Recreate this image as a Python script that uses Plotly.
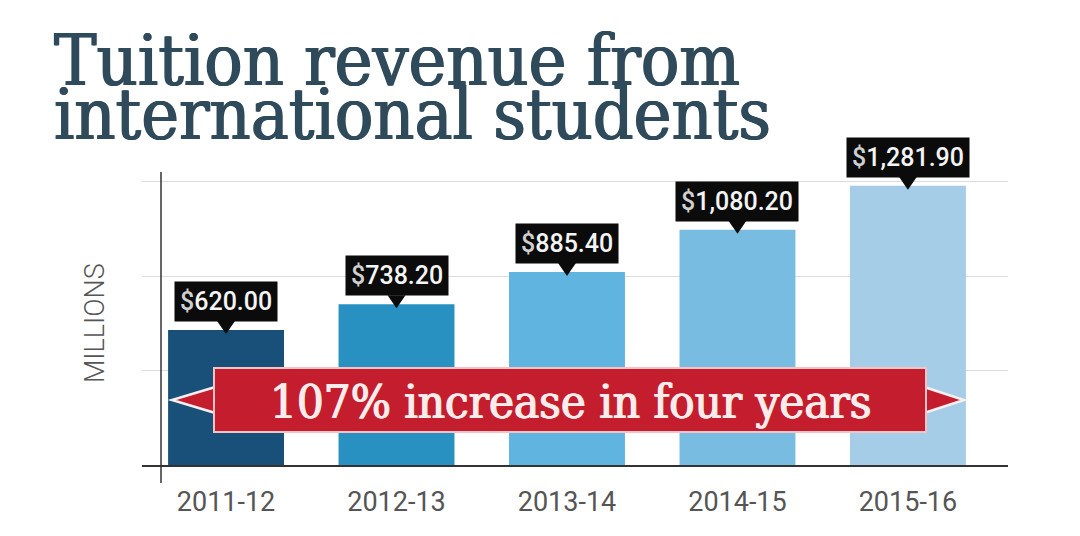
import plotly.graph_objects as go

# ---- data ----
categories = ["2011-12", "2012-13", "2013-14", "2014-15", "2015-16"]
revenue = [620.00, 738.20, 885.40, 1080.20, 1281.90]
bar_colors = ["#18507a", "#2891c2", "#60b4e0", "#78bce2", "#a5cde8"]
gridlines = [1300 / 3, 2600 / 3, 1300]
title_lines = ["Tuition revenue from", "international students"]
banner_text = "107% increase in four years"
y_title = "MILLIONS"

# ---- layout geometry (pixels) ----
W, H = 1080, 536
ML, MR, MT, MB = 142, 72, 160, 71
PW, PH = W - ML - MR, H - MT - MB


def px(x):
    return (x - ML) / PW


def py(y):
    return (H - MB - y) / PH


fig = go.Figure()
fig.add_trace(go.Bar(
    x=list(range(len(categories))), y=revenue,
    marker=dict(color=bar_colors, line=dict(width=0)),
    width=0.68, hoverinfo="skip",
))

# value label boxes + pointers
for i, v in enumerate(revenue):
    fig.add_annotation(
        x=i, y=v, xref="x", yref="y", yanchor="bottom", yshift=8,
        text=f"<span style='color:#cfcfcf'>$</span>{v:,.2f}",
        showarrow=False, bgcolor="#0b0b0b", borderpad=5,
        font=dict(family="Roboto", size=25, color="#f4f4f4", weight=500),
    )
    fig.add_shape(
        type="path", xref="x", yref="y",
        xsizemode="pixel", ysizemode="pixel", xanchor=i, yanchor=v,
        path="M -9 9 L 9 9 L 0 -4 Z",
        fillcolor="#0b0b0b", line=dict(width=0), layer="above",
    )

# banner: arrows then rectangle
red = "#c41e2e"
fig.add_shape(type="path", xref="paper", yref="paper",
              path=f"M {px(222)} {py(385)} L {px(172)} {py(400)} L {px(222)} {py(415)} Z",
              fillcolor=red, line=dict(color="#fbeff0", width=2.5), layer="above")
fig.add_shape(type="path", xref="paper", yref="paper",
              path=f"M {px(918)} {py(385)} L {px(964)} {py(400)} L {px(918)} {py(415)} Z",
              fillcolor=red, line=dict(color="#fbeff0", width=2.5), layer="above")
fig.add_shape(type="rect", xref="paper", yref="paper",
              x0=px(214), x1=px(926), y0=py(432), y1=py(368),
              fillcolor=red, line=dict(color="#f2c4c8", width=2), layer="above")
banner_col = "#fbecec"
fig.add_annotation(x=px(570), y=py(401), xref="paper", yref="paper",
                   xanchor="center", yanchor="middle",
                   text=banner_text, showarrow=False,
                   font=dict(family="DejaVu Serif Condensed, DejaVu Serif", size=47,
                             color=banner_col,
                             shadow=f"0.7px 0 0 {banner_col}, -0.7px 0 0 {banner_col}"))

# y axis vertical line (extends beyond plot)
fig.add_shape(type="line", xref="paper", yref="paper",
              x0=px(161), x1=px(161), y0=py(483), y1=py(172),
              line=dict(color="#333333", width=1.5), layer="above")

# title
tcol = "#2f4a5a"
title_font = dict(family="DejaVu Serif Condensed, DejaVu Serif", size=71, color=tcol,
                  shadow=f"0.8px 0 0 {tcol}, -0.8px 0 0 {tcol}")
fig.add_annotation(x=px(52), y=py(60), xref="paper", yref="paper", xanchor="left", yanchor="middle",
                   text=title_lines[0], showarrow=False, font=title_font)
fig.add_annotation(x=px(52), y=py(114), xref="paper", yref="paper", xanchor="left", yanchor="middle",
                   text=title_lines[1], showarrow=False, font=title_font)

# y title
fig.add_annotation(x=px(95), y=py(323), xref="paper", yref="paper", textangle=-90,
                   xanchor="center", yanchor="middle",
                   text=y_title, showarrow=False,
                   font=dict(family="Roboto", size=27, color="#555555", weight=300))

fig.update_layout(
    width=W, height=H, margin=dict(l=ML, r=MR, t=MT, b=MB),
    paper_bgcolor="white", plot_bgcolor="white", showlegend=False,
    xaxis=dict(range=[-0.493, 4.587], tickmode="array",
               tickvals=list(range(len(categories))), ticktext=categories,
               showgrid=False, zeroline=False, showline=True, linecolor="#333333", linewidth=1.5,
               ticks="", ticklabelstandoff=12,
               tickfont=dict(family="Roboto", size=27, color="#555555")),
    yaxis=dict(range=[0, 1400], tickmode="array", tickvals=gridlines, showticklabels=False,
               showgrid=True, gridcolor="#dddddd", gridwidth=1, zeroline=False, showline=False),
)

fig.write_html("out.html")
